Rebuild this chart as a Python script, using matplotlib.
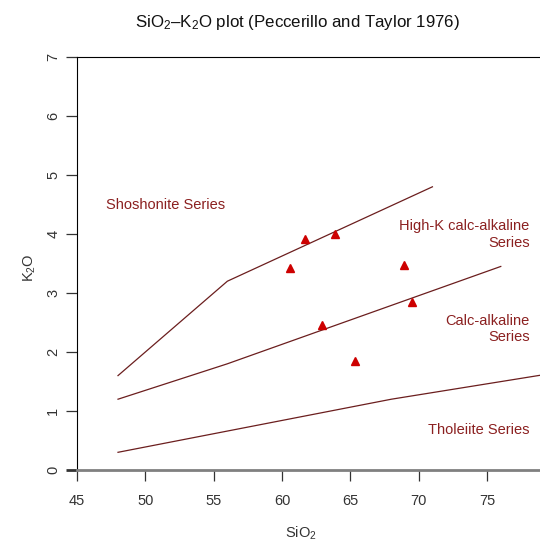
import matplotlib
matplotlib.use("Agg")
import matplotlib.pyplot as plt

plt.rcParams['font.family'] = ['Liberation Sans', 'DejaVu Sans']
plt.rcParams['mathtext.fontset'] = 'custom'
plt.rcParams['mathtext.rm'] = 'Liberation Sans'
plt.rcParams['mathtext.it'] = 'Liberation Sans'

# Boundary lines (Peccerillo and Taylor 1976)
shosho_x = [48, 56, 71]
shosho_y = [1.6, 3.2, 4.8]
highk_x = [48, 56, 76]
highk_y = [1.2, 1.8, 3.45]
thol_x = [48, 68, 79]
thol_y = [0.3, 1.2, 1.61]

# Samples
sio2 = [61.7, 63.9, 60.6, 68.9, 69.5, 62.9, 65.3]
k2o = [3.91, 4.0, 3.42, 3.47, 2.84, 2.46, 1.85]

series_names = ["Shoshonite Series", "High-K calc-alkaline\nSeries",
                "Calc-alkaline\nSeries", "Tholeiite Series"]
name_x = [51.5, 78.1, 78.1, 78.1]
name_y = [4.5, 3.99, 2.39, 0.68]
name_ha = ["center", "right", "right", "right"]

line_col = "#6B1E1E"
text_col = "#8B2020"

W, H = 540, 543
fig = plt.figure(figsize=(W / 100, H / 100), dpi=100)
left, right, top, bottom = 77, 540, 57, 470
ax = fig.add_axes([left / W, 1 - bottom / H, (right - left) / W, (bottom - top) / H])

for xs, ys in [(shosho_x, shosho_y), (highk_x, highk_y), (thol_x, thol_y)]:
    ax.plot(xs, ys, color=line_col, lw=0.9)

ax.plot(sio2, k2o, linestyle="none", marker="^", color="#CD0000", ms=6)

for name, x, y, ha in zip(series_names, name_x, name_y, name_ha):
    ax.text(x, y, name, color=text_col, fontsize=10.5, ha=ha, va="center",
            multialignment="right", linespacing=1.25)

ax.set_xlim(45, 45 + (right - left) / 13.67)
ax.set_ylim(0, 7)
ax.set_xticks([45, 50, 55, 60, 65, 70, 75])
ax.set_yticks(range(8))
ax.tick_params(direction="out", length=8, width=0.9, labelsize=10.5, colors="#333333")
ax.tick_params(axis="y", pad=4)
for lab in ax.get_yticklabels():
    lab.set_rotation(90)
    lab.set_va("center")
ax.tick_params(axis="x", pad=9)

ax.spines["right"].set_visible(False)
ax.spines["left"].set_color("black")
ax.spines["top"].set_color("black")
ax.spines["bottom"].set_color("#808080")
ax.spines["bottom"].set_linewidth(2)
ytl = ax.yaxis.get_major_ticks()[0]
ytl.tick1line.set_color("#808080")
ytl.tick1line.set_markeredgewidth(2)

fig.text(297 / W, 1 - 23 / H, "SiO$_2$–K$_2$O plot (Peccerillo and Taylor 1976)",
         ha="center", va="center", fontsize=12.2, color="#111111")
fig.text(301 / W, 1 - 533 / H, "SiO$_2$", ha="center", va="center", fontsize=10.5,
         color="#333333")
fig.text(30 / W, 1 - 268 / H, "K$_2$O", ha="center", va="center", fontsize=10.5,
         rotation=90, color="#333333")

fig.savefig("out.png", dpi=100)
